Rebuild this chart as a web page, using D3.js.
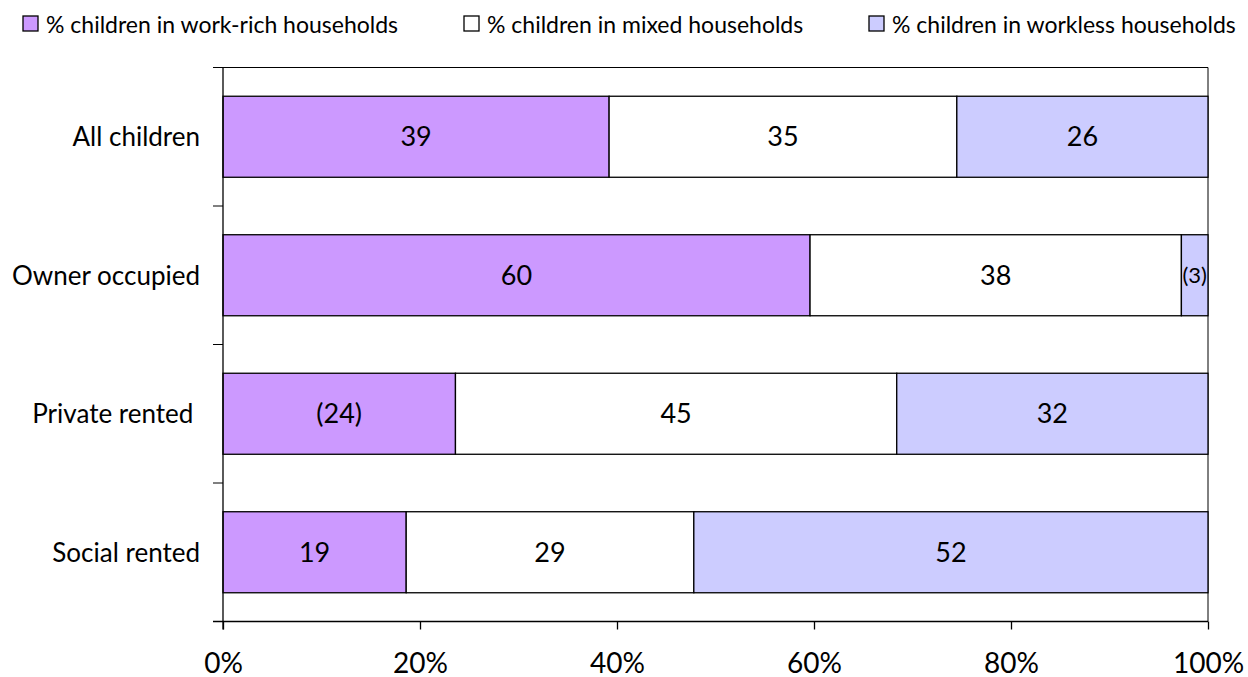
<!DOCTYPE html>
<html><head><meta charset="utf-8">
<script src="https://cdn.jsdelivr.net/npm/d3@7/dist/d3.min.js"></script>
<style>
body{margin:0;background:#fff;}
svg text{font-family:Lato,"Open Sans",sans-serif;fill:#000;}
</style></head>
<body><svg id="c" width="1248" height="677"></svg>
<script>
const categories = ["All children","Owner occupied","Private rented ","Social rented"];
const seriesNames = ["% children in work-rich households","% children in mixed households","% children in workless households"];
const workRich = [39.2, 59.6, 23.6, 18.6];
const mixed = [35.3, 37.7, 44.8, 29.2];
const workless = [25.5, 2.7, 31.6, 52.2];
const workRichLabels = ["39","60","(24)","19"];
const mixedLabels = ["35","38","45","29"];
const worklessLabels = ["26","(3)","32","52"];
const xTicks = [0, 20, 40, 60, 80, 100];
const colors = ["#CC99FF","#FFFFFF","#CCCCFF"];

const svg = d3.select("#c");
const L = 223, R = 1208, T = 67.5, B = 621.5;
const x = d3.scaleLinear().domain([0,100]).range([L,R]);
const y = d3.scaleBand().domain(categories).range([T,B]).paddingInner(0.415).paddingOuter(0.2075);

const series = [workRich, mixed, workless];
const labels = [workRichLabels, mixedLabels, worklessLabels];

svg.append("line").attr("x1",L).attr("x2",R).attr("y1",T).attr("y2",T).attr("stroke","#000").attr("stroke-width",1);
svg.append("line").attr("x1",R).attr("x2",R).attr("y1",T).attr("y2",B).attr("stroke","#000").attr("stroke-width",1);

categories.forEach((c,i)=>{
  let acc = 0;
  series.forEach((s,k)=>{
    const v = s[i];
    const x0 = x(acc), x1 = x(acc+v);
    svg.append("rect").attr("x",x0).attr("y",y(c)).attr("width",x1-x0).attr("height",y.bandwidth())
      .attr("fill",colors[k]).attr("stroke","#000").attr("stroke-width",1.3);
    const small = labels[k][i]==="(3)";
    svg.append("text").attr("x",(x0+x1)/2).attr("y",y(c)+y.bandwidth()/2).attr("dy","0.36em")
      .attr("text-anchor","middle").attr("font-size", small?22:27).text(labels[k][i]);
    acc += v;
  });
});

const yAxisG = svg.append("g");
yAxisG.append("line").attr("x1",L).attr("x2",L).attr("y1",T).attr("y2",B+8).attr("stroke","#000").attr("stroke-width",1.3);
const step = (B-T)/categories.length;
d3.range(categories.length+1).forEach(j=>{
  yAxisG.append("line").attr("x1",L-10).attr("x2",L).attr("y1",T+j*step).attr("y2",T+j*step).attr("stroke","#000").attr("stroke-width",1);
});
categories.forEach(c=>{
  yAxisG.append("text").attr("x",200).attr("y",y(c)+y.bandwidth()/2).attr("dy","0.36em")
    .attr("text-anchor","end").attr("font-size",26).style("white-space","pre").text(c);
});

const xAxis = d3.axisBottom(x).tickValues(xTicks).tickSize(8).tickFormat(d=>d+"%");
const xg = svg.append("g").attr("transform",`translate(0,${B})`).call(xAxis);
xg.select(".domain").attr("stroke","#000").attr("stroke-width",1.3).attr("d",`M${L-10},0H${R}`);
xg.selectAll(".tick line").attr("stroke","#000").attr("stroke-width",1.3);
xg.selectAll(".tick text").attr("font-size",28).attr("y",51).attr("dy",0).style("font-family",'Lato,"Open Sans",sans-serif').attr("fill","#000");

const legX = [23, 464, 869];
seriesNames.forEach((n,k)=>{
  svg.append("rect").attr("x",legX[k]).attr("y",16).attr("width",15).attr("height",15)
    .attr("fill",colors[k]).attr("stroke","#000").attr("stroke-width",1.3);
  svg.append("text").attr("x",legX[k]+23).attr("y",24.5).attr("dy","0.36em").attr("font-size",23).text(n);
});
</script></body></html>
